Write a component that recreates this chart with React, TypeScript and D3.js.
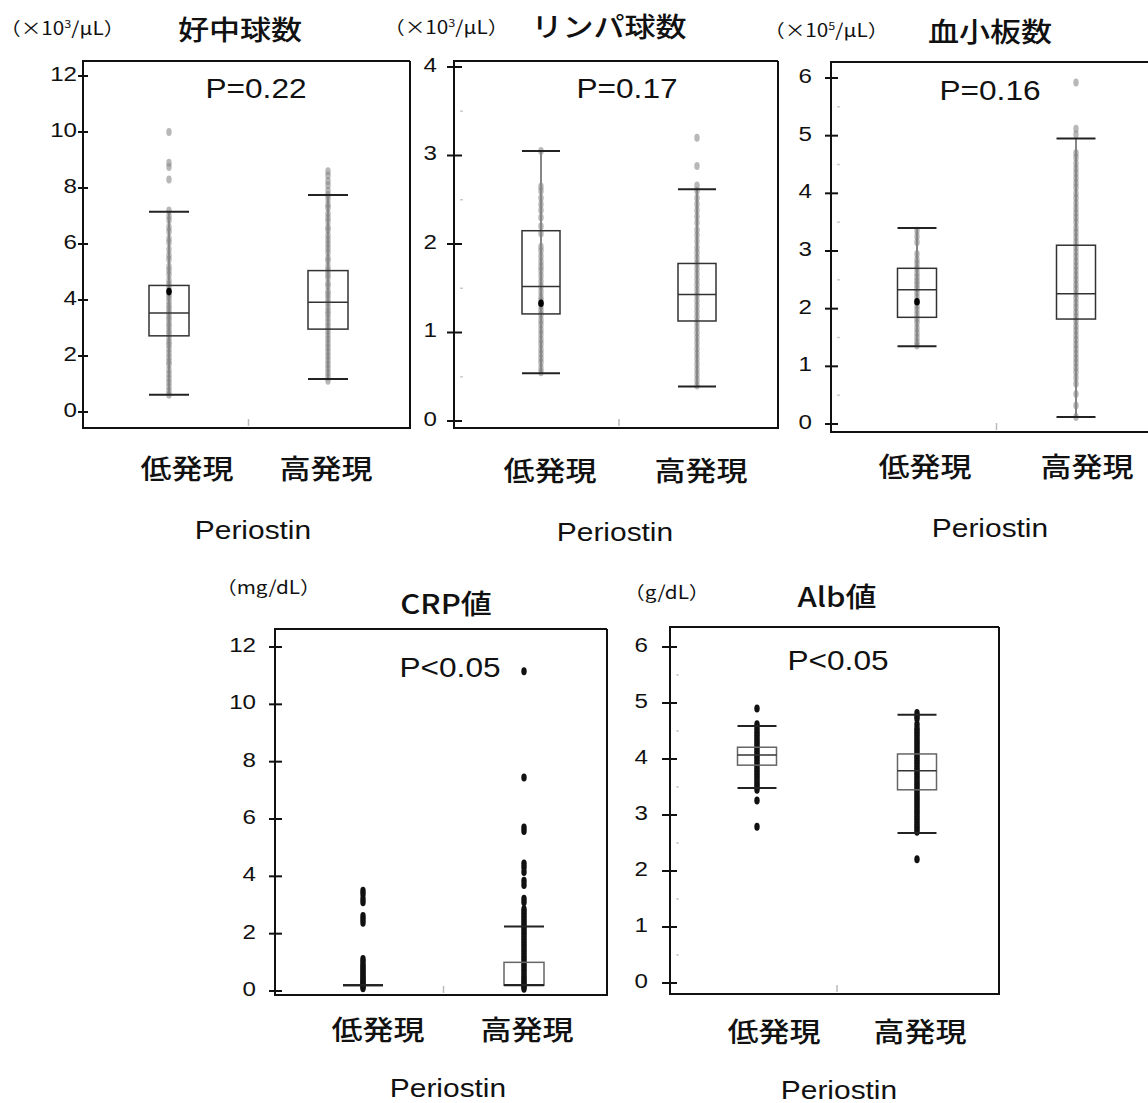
import React from 'react';
import * as d3 from 'd3';

const W = 1148;
const H = 1103;

const LATIN = "'Liberation Sans', Arial, 'Noto Sans CJK JP', sans-serif";
const CJK = "'Noto Sans CJK JP', 'Liberation Sans', sans-serif";

// groups on x
const groups = ['低発現', '高発現'];

// tick labels for each panel
const neutroTicks = [0, 2, 4, 6, 8, 10, 12];
const lymphTicks = [0, 1, 2, 3, 4];
const pltTicks = [0, 1, 2, 3, 4, 5, 6];
const crpTicks = [0, 2, 4, 6, 8, 10, 12];
const albTicks = [0, 1, 2, 3, 4, 5, 6];

// box stats: [lower whisker, Q1, median, Q3, upper whisker]
const neutroStats = [[0.62, 2.72, 3.54, 4.52, 7.15], [1.18, 2.96, 3.92, 5.05, 7.75]];
const lymphStats = [[0.54, 1.21, 1.52, 2.15, 3.05], [0.39, 1.13, 1.43, 1.78, 2.62]];
const pltStats = [[1.35, 1.85, 2.33, 2.70, 3.40], [0.12, 1.82, 2.26, 3.10, 4.95]];
const crpStats = [[0.2, 0.2, 0.2, 0.2, 0.2], [0.2, 0.2, 0.22, 1.0, 2.25]];
const albStats = [[3.48, 3.89, 4.07, 4.21, 4.59], [2.68, 3.45, 3.79, 4.09, 4.79]];

// mean markers (only low group is visible)
const neutroMean = [4.3];
const lymphMean = [1.33];
const pltMean = [2.12];

// individual points
const neutroLow = [10.0, 8.9, 8.75, 8.3, 7.2, 7.0, 6.85, 6.6, 6.45, 6.2, 6.05, 5.8, 5.6, 5.45, 5.2, 5.05, 4.9, 4.7, 4.55, 4.4, 4.2, 4.1, 3.95, 3.8, 3.7, 3.55, 3.4, 3.3, 3.15, 3.05, 2.9, 2.8, 2.65, 2.5, 2.4, 2.25, 2.1, 1.95, 1.8, 1.7, 1.5, 1.35, 1.2, 1.05, 0.9, 0.75, 0.62];
const neutroHigh = [8.6, 8.45, 8.25, 8.1, 7.9, 7.75, 7.6, 7.4, 7.3, 7.1, 6.95, 6.8, 6.6, 6.5, 6.3, 6.15, 6.0, 5.85, 5.7, 5.5, 5.4, 5.2, 5.05, 4.9, 4.8, 4.6, 4.5, 4.3, 4.2, 4.05, 3.9, 3.75, 3.6, 3.5, 3.35, 3.2, 3.05, 2.9, 2.75, 2.6, 2.45, 2.3, 2.15, 2.0, 1.85, 1.7, 1.55, 1.4, 1.25, 1.12];
const lymphLow = [3.05, 2.65, 2.6, 2.52, 2.45, 2.38, 2.3, 2.2, 2.12, 1.97, 1.92, 1.86, 1.8, 1.75, 1.7, 1.64, 1.58, 1.52, 1.46, 1.4, 1.36, 1.3, 1.25, 1.2, 1.14, 1.09, 1.03, 0.98, 0.92, 0.87, 0.81, 0.76, 0.71, 0.66, 0.6, 0.55];
const lymphHigh = [3.2, 2.88, 2.66, 2.6, 2.52, 2.45, 2.38, 2.31, 2.24, 2.16, 2.1, 2.03, 1.96, 1.9, 1.84, 1.78, 1.72, 1.66, 1.6, 1.54, 1.48, 1.42, 1.36, 1.3, 1.24, 1.18, 1.12, 1.06, 1.0, 0.94, 0.88, 0.82, 0.76, 0.7, 0.64, 0.58, 0.52, 0.46, 0.4];
const pltLow = [3.35, 3.25, 3.15, 2.95, 2.85, 2.78, 2.7, 2.62, 2.55, 2.48, 2.42, 2.35, 2.28, 2.2, 2.12, 2.05, 1.98, 1.9, 1.82, 1.75, 1.66, 1.58, 1.5, 1.42, 1.36];
const pltHigh = [5.92, 5.12, 5.02, 4.7, 4.62, 4.52, 4.43, 4.35, 4.26, 4.18, 4.1, 4.0, 3.92, 3.83, 3.74, 3.66, 3.58, 3.5, 3.4, 3.32, 3.24, 3.15, 3.06, 2.98, 2.9, 2.82, 2.74, 2.66, 2.58, 2.5, 2.42, 2.34, 2.26, 2.18, 2.1, 2.02, 1.94, 1.86, 1.78, 1.7, 1.62, 1.54, 1.46, 1.38, 1.3, 1.22, 1.14, 1.06, 0.98, 0.9, 0.8, 0.7, 0.52, 0.32, 0.12];
const crpLow = [3.5, 3.38, 3.22, 3.1, 2.62, 2.5, 2.38, 1.12, 1.02, 0.92, 0.84, 0.76, 0.68, 0.6, 0.52, 0.45, 0.38, 0.32, 0.26, 0.2, 0.15, 0.1];
const crpHigh = [11.15, 7.45, 5.7, 5.58, 4.45, 4.32, 4.15, 3.85, 3.7, 3.22, 3.1, 2.85, 2.76, 2.66, 2.56, 2.46, 2.36, 2.26, 2.16, 2.06, 1.96, 1.86, 1.76, 1.66, 1.56, 1.46, 1.36, 1.26, 1.16, 1.06, 0.96, 0.86, 0.76, 0.66, 0.56, 0.46, 0.38, 0.3, 0.22, 0.15, 0.08];
const albLow = [4.9, 4.62, 4.56, 4.5, 4.45, 4.4, 4.35, 4.3, 4.25, 4.2, 4.15, 4.1, 4.05, 4.0, 3.95, 3.9, 3.85, 3.8, 3.75, 3.7, 3.65, 3.6, 3.55, 3.5, 3.45, 3.26, 2.79];
const albHigh = [4.82, 4.77, 4.72, 4.62, 4.55, 4.5, 4.45, 4.4, 4.35, 4.3, 4.25, 4.2, 4.15, 4.1, 4.05, 4.0, 3.95, 3.9, 3.85, 3.8, 3.75, 3.7, 3.65, 3.6, 3.55, 3.5, 3.45, 3.4, 3.35, 3.3, 3.25, 3.2, 3.15, 3.1, 3.05, 3.0, 2.95, 2.9, 2.85, 2.8, 2.75, 2.7, 2.21];

type Panel = {
  title: string; unit: string; sup?: string; unitEnd: string; p: string;
  ticks: number[]; stats: number[][]; mean: number[]; dots: number[][];
  dark: boolean; minor: boolean;
  frame: { l: number; t: number; r: number; b: number };
  y0: number; yTop: number; cx: [number, number]; hw: number;
  tick: [number, number]; labelRight: number;
  labelX: [number, number]; labelY: number; perX: number; perY: number;
  titleX: number; titleY: number; unitX: number; unitY: number; pX: number; pY: number;
};

const panels: Panel[] = [
  {
    title: '好中球数', unit: '（×10', sup: '3', unitEnd: '/μL）', p: 'P=0.22',
    ticks: neutroTicks, stats: neutroStats, mean: neutroMean, dots: [neutroLow, neutroHigh],
    dark: false, minor: false,
    frame: { l: 83, t: 61, r: 410, b: 428 }, y0: 412, yTop: 76, cx: [169, 328], hw: 20,
    tick: [78, 88], labelRight: 77, labelX: [187, 326], labelY: 467, perX: 253, perY: 530,
    titleX: 240, titleY: 28, unitX: 0, unitY: 28, pX: 256, pY: 88,
  },
  {
    title: 'リンパ球数', unit: '（×10', sup: '3', unitEnd: '/μL）', p: 'P=0.17',
    ticks: lymphTicks, stats: lymphStats, mean: lymphMean, dots: [lymphLow, lymphHigh],
    dark: false, minor: true,
    frame: { l: 454, t: 61, r: 778, b: 428 }, y0: 421, yTop: 67, cx: [541, 697], hw: 19,
    tick: [447, 462], labelRight: 437, labelX: [550, 701], labelY: 469, perX: 615, perY: 532,
    titleX: 609, titleY: 25, unitX: 384, unitY: 27, pX: 627, pY: 88,
  },
  {
    title: '血小板数', unit: '（×10', sup: '5', unitEnd: '/μL）', p: 'P=0.16',
    ticks: pltTicks, stats: pltStats, mean: pltMean, dots: [pltLow, pltHigh],
    dark: false, minor: true,
    frame: { l: 831, t: 62, r: 1170, b: 432 }, y0: 424, yTop: 78, cx: [917, 1076], hw: 19.5,
    tick: [825, 838], labelRight: 812, labelX: [925, 1087], labelY: 465, perX: 990, perY: 528,
    titleX: 990, titleY: 30, unitX: 764, unitY: 30, pX: 990, pY: 90,
  },
  {
    title: 'CRP値', unit: '（mg/dL）', unitEnd: '', p: 'P<0.05',
    ticks: crpTicks, stats: crpStats, mean: [], dots: [crpLow, crpHigh],
    dark: true, minor: false,
    frame: { l: 275, t: 629, r: 607, b: 995 }, y0: 991, yTop: 647, cx: [363, 524], hw: 20,
    tick: [269, 282], labelRight: 256, labelX: [378, 527], labelY: 1028, perX: 448, perY: 1088,
    titleX: 446, titleY: 602, unitX: 216, unitY: 587, pX: 450, pY: 667,
  },
  {
    title: 'Alb値', unit: '（g/dL）', unitEnd: '', p: 'P<0.05',
    ticks: albTicks, stats: albStats, mean: [], dots: [albLow, albHigh],
    dark: true, minor: true,
    frame: { l: 670, t: 627, r: 999, b: 994 }, y0: 983, yTop: 647, cx: [757, 917], hw: 19.5,
    tick: [662, 677], labelRight: 648, labelX: [774, 920], labelY: 1030, perX: 839, perY: 1090,
    titleX: 837, titleY: 595, unitX: 624, unitY: 592, pX: 838, pY: 660,
  },
];

const SX = 1.15; // source image is slightly stretched horizontally

function Label({ x, y, size, anchor = 'middle', family = LATIN, weight = 400, children }: any) {
  return (
    <text transform={`translate(${x},${y}) scale(${SX},1)`} fontSize={size} fontFamily={family}
      fontWeight={weight} textAnchor={anchor} dominantBaseline="central" fill="#111">
      {children}
    </text>
  );
}

function BoxPanel({ cfg }: { cfg: Panel }) {
  const { frame } = cfg;
  const yMax = cfg.ticks[cfg.ticks.length - 1];
  const y = d3.scaleLinear().domain([0, yMax]).range([cfg.y0, cfg.yTop]);
  const x = d3.scalePoint<string>().domain(groups).range(cfg.cx);
  const minorTicks = cfg.minor ? d3.range(0.5, yMax, 1) : [];
  const dotFill = cfg.dark ? '#111' : '#888';
  const dotOpacity = cfg.dark ? 1 : 0.6;

  return (
    <g>
      {/* frame */}
      <path d={`M${frame.r},${frame.t}H${frame.l}V${frame.b}H${frame.r}${frame.r < W ? `V${frame.t}` : ''}`}
        fill="none" stroke="#111" strokeWidth={2} />
      {/* faint mid tick on x axis */}
      <line x1={(cfg.cx[0] + cfg.cx[1]) / 2} x2={(cfg.cx[0] + cfg.cx[1]) / 2}
        y1={frame.b - 9} y2={frame.b - 2} stroke="#bbb" strokeWidth={1.5} />
      {/* y ticks */}
      {cfg.ticks.map(t => (
        <g key={t}>
          <line x1={cfg.tick[0]} x2={cfg.tick[1]} y1={y(t)} y2={y(t)} stroke="#111" strokeWidth={2} />
          <Label x={cfg.labelRight} y={y(t) - 2} size={21} anchor="end">{t}</Label>
        </g>
      ))}
      {minorTicks.map(t => (
        <line key={t} x1={frame.l + 6} x2={frame.l + 9} y1={y(t)} y2={y(t)} stroke="#ccc" strokeWidth={1.5} />
      ))}

      {groups.map((g, i) => {
        const [wl, q1, med, q3, wh] = cfg.stats[i];
        const cx = x(g) as number;
        const hw = cfg.hw;
        return (
          <g key={g}>
            <line x1={cx} x2={cx} y1={y(wl)} y2={y(wh)} stroke="#444" strokeWidth={1.3} />
            {cfg.dots[i].map((v, j) => (
              <ellipse key={j} cx={cx} cy={y(v)} rx={2.7} ry={4} fill={dotFill} fillOpacity={dotOpacity} />
            ))}
            <rect x={cx - hw} y={y(q3)} width={hw * 2} height={Math.max(0, y(q1) - y(q3))}
              fill="none" stroke={cfg.dark ? '#666' : '#333'} strokeWidth={1.5} />
            <line x1={cx - hw} x2={cx + hw} y1={y(med)} y2={y(med)} stroke="#333" strokeWidth={1.5} />
            <line x1={cx - hw} x2={cx + hw} y1={y(wh)} y2={y(wh)} stroke="#222" strokeWidth={2} />
            <line x1={cx - hw} x2={cx + hw} y1={y(wl)} y2={y(wl)} stroke="#222" strokeWidth={2} />
            {i === 0 && cfg.mean.map((m, k) => (
              <ellipse key={k} cx={cx} cy={y(m)} rx={2.8} ry={3.8} fill="#000" />
            ))}
          </g>
        );
      })}

      {/* texts */}
      <Label x={cfg.pX} y={cfg.pY} size={27.5}>{cfg.p}</Label>
      <Label x={cfg.titleX} y={cfg.titleY} size={27} family={CJK} weight={500}>{cfg.title}</Label>
      <Label x={cfg.unitX} y={cfg.unitY} size={18} anchor="start" family={CJK}>
        {cfg.unit}
        {cfg.sup && <tspan fontSize={11} dy={-6}>{cfg.sup}</tspan>}
        {cfg.unitEnd && <tspan dy={cfg.sup ? 6 : 0}>{cfg.unitEnd}</tspan>}
      </Label>
      {groups.map((g, i) => (
        <Label key={g} x={cfg.labelX[i]} y={cfg.labelY} size={27} family={CJK} weight={500}>{g}</Label>
      ))}
      <Label x={cfg.perX} y={cfg.perY} size={26}>Periostin</Label>
    </g>
  );
}

export default function App() {
  return (
    <div style={{ position: 'absolute', left: 0, top: 0 }}>
      <svg width={W} height={H} style={{ display: 'block', background: '#fff' }}>
        {panels.map((p, i) => <BoxPanel key={i} cfg={p} />)}
      </svg>
    </div>
  );
}
